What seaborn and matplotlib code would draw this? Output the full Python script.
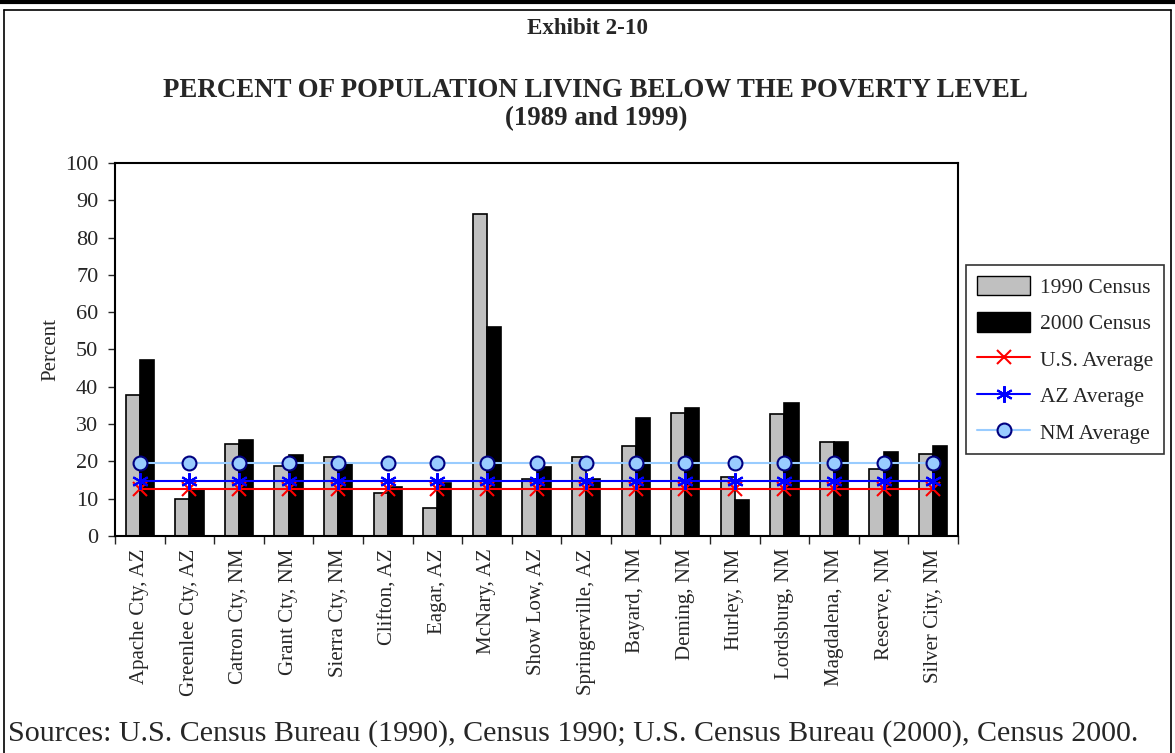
import numpy as np
import pandas as pd
import matplotlib
matplotlib.use("Agg")
import matplotlib.pyplot as plt
import seaborn as sns
from matplotlib.lines import Line2D
from matplotlib.patches import Patch

# Data read from the exhibit
places = ["Apache Cty, AZ", "Greenlee Cty, AZ", "Catron Cty, NM", "Grant Cty, NM",
          "Sierra Cty, NM", "Clifton, AZ", "Eagar, AZ", "McNary, AZ", "Show Low, AZ",
          "Springerville, AZ", "Bayard, NM", "Deming, NM", "Hurley, NM", "Lordsburg, NM",
          "Magdalena, NM", "Reserve, NM", "Silver City, NM"]
census_1990 = [37.7, 9.9, 24.7, 18.8, 21.1, 11.5, 7.4, 86.4, 15.2, 21.1, 24.2, 32.9,
               15.7, 32.6, 25.1, 17.9, 22.0]
census_2000 = [47.3, 12.7, 25.7, 21.7, 19.3, 13.2, 14.3, 56.1, 18.6, 15.2, 31.6, 34.3,
               9.6, 35.7, 25.3, 22.6, 24.2]
us_avg = 12.6
az_avg = 14.7
nm_avg = 19.5

sns.set_style("white")
plt.rcParams["font.family"] = ["Liberation Serif", "DejaVu Serif"]

df = pd.DataFrame({
    "place": places * 2,
    "pct": census_1990 + census_2000,
    "census": ["1990 Census"] * len(places) + ["2000 Census"] * len(places),
})

fig = plt.figure(figsize=(11.75, 7.53), dpi=100)
ax = fig.add_axes([0.0979, 0.2882, 0.7174, 0.4954])

sns.barplot(data=df, x="place", y="pct", hue="census", order=places,
            palette=["#C0C0C0", "#000000"], width=0.57, edgecolor="black",
            linewidth=1.2, saturation=1, legend=False, ax=ax)

xs = np.arange(len(places))
ax.plot(xs, [us_avg] * len(xs), color="#FF0000", lw=1.5, marker="x", ms=10, mew=1.5)
ax.plot(xs, [az_avg] * len(xs), color="#0000FF", lw=1.5, marker=(6, 2, 0), ms=12, mew=1.5)
ax.plot(xs, [nm_avg] * len(xs), color="#99CCFF", lw=1.5, marker="o", ms=10,
        mfc="#99CCFF", mec="#000080", mew=1.5)

ax.set_xlim(-0.5, len(places) - 0.5)
ax.set_ylim(0, 100)
ax.set_yticks(range(0, 101, 10))
ax.tick_params(axis="y", labelsize=16, length=5, width=1, direction="out", left=True, pad=7)
ax.set_xticks(xs)
ax.set_xticklabels(places, rotation=90, fontsize=15)
ax.tick_params(axis="x", which="major", length=0, pad=9)
ax.set_xticks(np.arange(-0.5, len(places), 1), minor=True)
ax.tick_params(axis="x", which="minor", length=6, width=1, direction="out", bottom=True)
ax.set_xlabel("")
ax.set_ylabel("Percent", fontsize=15, labelpad=3)
for s in ax.spines.values():
    s.set_color("black")
    s.set_linewidth(1.5)

handles = [
    Patch(facecolor="#C0C0C0", edgecolor="black", label="1990 Census"),
    Patch(facecolor="#000000", edgecolor="black", label="2000 Census"),
    Line2D([], [], color="#FF0000", marker="x", ms=10, mew=1.5, lw=1.5, label="U.S. Average"),
    Line2D([], [], color="#0000FF", marker=(6, 2, 0), ms=12, mew=1.5, lw=1.5, label="AZ Average"),
    Line2D([], [], color="#99CCFF", marker="o", ms=10, mfc="#99CCFF", mec="#000080",
           mew=1.5, lw=1.5, label="NM Average"),
]
leg = fig.legend(handles=handles, loc="upper left", bbox_to_anchor=(0.822, 0.648),
                 borderaxespad=0, fontsize=15.5, frameon=True, fancybox=False,
                 edgecolor="black", handlelength=2.5, handleheight=1.0,
                 labelspacing=0.67, borderpad=0.5, handletextpad=0.45)
leg.get_frame().set_linewidth(1.2)

fig.text(0.5, 0.9615, "Exhibit 2-10", ha="center", va="center", fontsize=16.6, fontweight="bold")
fig.text(0.507, 0.880, "PERCENT OF POPULATION LIVING BELOW THE POVERTY LEVEL",
         ha="center", va="center", fontsize=19.4, fontweight="bold")
fig.text(0.507, 0.843, "(1989 and 1999)", ha="center", va="center", fontsize=19.4,
         fontweight="bold")
fig.text(0.007, 0.026, "Sources: U.S. Census Bureau (1990), Census 1990; U.S. Census Bureau (2000), Census 2000.",
         ha="left", va="center", fontsize=21.6)

# page frame
fig.add_artist(Line2D([0, 1], [0.997, 0.997], color="black", lw=3, transform=fig.transFigure))
fig.add_artist(Line2D([0.003, 0.997], [0.987, 0.987], color="black", lw=1.2, transform=fig.transFigure))
fig.add_artist(Line2D([0.003, 0.003], [0.0, 0.987], color="black", lw=1.2, transform=fig.transFigure))
fig.add_artist(Line2D([0.997, 0.997], [0.0, 0.987], color="black", lw=1.2, transform=fig.transFigure))

fig.savefig("out.png", dpi=100)
